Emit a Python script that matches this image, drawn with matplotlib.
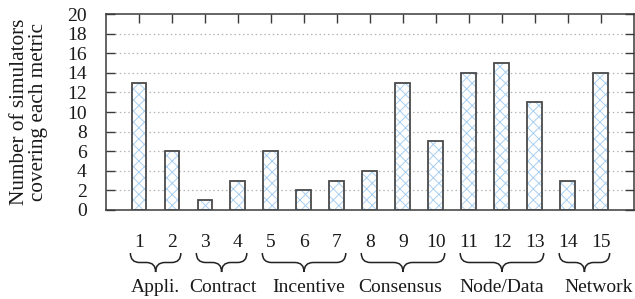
import matplotlib
matplotlib.use("Agg")
import matplotlib.pyplot as plt
from matplotlib.path import Path
from matplotlib.patches import PathPatch
import matplotlib.transforms as mtransforms

plt.rcParams['font.family'] = ['Liberation Serif', 'DejaVu Serif']
plt.rcParams['font.size'] = 14
plt.rcParams['hatch.linewidth'] = 0.7

metrics = list(range(1, 16))
values = [13, 6, 1, 3, 6, 2, 3, 4, 13, 7, 14, 15, 11, 3, 14]
tick_labels = [str(m) for m in metrics]
groups = ["Appli.", "Contract", "Incentive", "Consensus", "Node/Data", "Network"]
group_members = [[1, 2], [3, 4], [5, 6, 7], [8, 9, 10], [11, 12, 13], [14, 15]]
yticks = list(range(0, 21, 2))

fig = plt.figure(figsize=(6.35, 2.99), dpi=100)
ax = fig.add_axes([0.1669, 0.2977, 0.8311, 0.6553])

hatch_col = '#a9cff0'
edge_col = '#4a4a4a'
ax.bar(metrics, values, width=0.45, color='white', edgecolor=hatch_col,
       hatch='xxx', linewidth=0, zorder=2)
ax.bar(metrics, values, width=0.45, facecolor='none', edgecolor=edge_col,
       linewidth=1.3, zorder=3)

ax.set_xlim(0, 16)
ax.set_ylim(0, 20)
ax.set_yticks(yticks)
ax.set_xticks(metrics)
ax.set_xticklabels(tick_labels)

for y in yticks[1:-1]:
    ax.axhline(y, xmin=0.018, xmax=0.982, color='#b5b5b5', linewidth=0.9,
               linestyle=(0, (1.2, 2.2)), zorder=1)

for s in ax.spines.values():
    s.set_color('#3a3a3a')
    s.set_linewidth(1.1)

ax.tick_params(axis='y', direction='in', length=6.7, width=1.0, color='#3a3a3a',
               left=True, right=True, labelleft=True, pad=14, labelcolor='#1a1a1a')
ax.tick_params(axis='x', direction='in', length=6.7, width=1.0, color='#3a3a3a',
               bottom=False, top=True, labelbottom=True, pad=17.5, labelcolor='#1a1a1a')

ax.set_ylabel("Number of simulators\ncovering each metric", linespacing=1.0,
              color='#1a1a1a', fontsize=15.3)
ax.yaxis.set_label_coords(-0.11, 0.5)

# braces
trans = mtransforms.blended_transform_factory(ax.transData, fig.transFigure)
yt, ym, yb = (299 - 253) / 299, (299 - 262.5) / 299, (299 - 272) / 299
q = 0.28
label_offsets = [0, 0.05, 0.15, -0.1, 0, 0.42]
for name, mem, off in zip(groups, group_members, label_offsets):
    x0, x1 = mem[0] - 0.26, mem[-1] + 0.27
    xm = (x0 + x1) / 2
    verts = [(x0, yt), (x0, ym), (x0 + q, ym),
             (xm - q, ym), (xm, ym), (xm, yb),
             (xm, ym), (xm + q, ym),
             (x1 - q, ym), (x1, ym), (x1, yt)]
    codes = [Path.MOVETO, Path.CURVE3, Path.CURVE3,
             Path.LINETO, Path.CURVE3, Path.CURVE3,
             Path.CURVE3, Path.CURVE3,
             Path.LINETO, Path.CURVE3, Path.CURVE3]
    ax.add_patch(PathPatch(Path(verts, codes), transform=trans, facecolor='none',
                           edgecolor='#222222', linewidth=1.1, clip_on=False))
    ax.text(xm + off, (299 - 291.5) / 299, name, transform=trans, ha='center',
            va='baseline', color='#1a1a1a', clip_on=False)

fig.savefig("out.png", dpi=100)
